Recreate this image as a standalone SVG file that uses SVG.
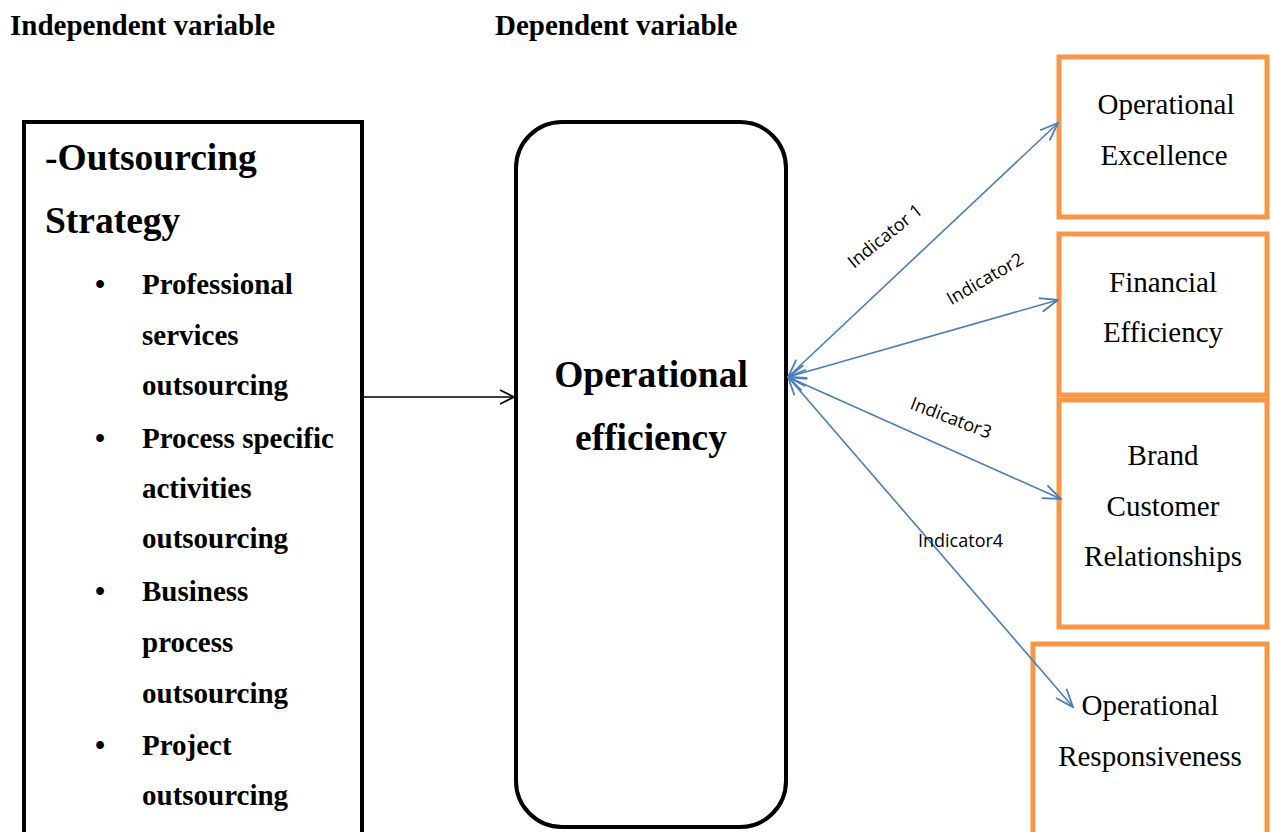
<svg xmlns="http://www.w3.org/2000/svg" width="1271" height="832" viewBox="0 0 1271 832">
<style>
.hdr{font-family:"Liberation Serif","Times New Roman",serif;font-weight:bold;font-size:29px;fill:#000}
.big{font-family:"Liberation Serif","Times New Roman",serif;font-weight:bold;font-size:37.5px;fill:#000}
.item{font-family:"Liberation Serif","Times New Roman",serif;font-weight:bold;font-size:29px;fill:#000}
.rt{font-family:"Liberation Serif","Times New Roman",serif;font-size:29px;fill:#000;text-anchor:middle}
.ind{font-family:"Open Sans","Noto Sans",sans-serif;font-size:18px;fill:#000}
.blk{fill:#fff;stroke:#000;stroke-width:4}
.org{fill:#fff;stroke:#F79646;stroke-width:5}
.blue{stroke:#4A7EBB;stroke-width:1.6;fill:none}
</style>
<defs>
<marker id="ab" viewBox="0 0 20 16" refX="19" refY="8" markerWidth="20" markerHeight="16" markerUnits="userSpaceOnUse" orient="auto-start-reverse">
<path d="M1,1 L19,8 L1,15" fill="none" stroke="#4A7EBB" stroke-width="1.8"/>
</marker>
<marker id="ak" viewBox="0 0 16 16" refX="15" refY="8" markerWidth="16" markerHeight="16" markerUnits="userSpaceOnUse" orient="auto">
<path d="M1,1 L15,8 L1,15" fill="none" stroke="#000" stroke-width="1.6"/>
</marker>
</defs>
<rect width="1271" height="832" fill="#fff"/>
<text class="hdr" x="10" y="35">Independent variable</text>
<text class="hdr" x="495" y="35">Dependent variable</text>

<g id="node-outsourcing">
<rect class="blk" x="24" y="122" width="338" height="760"/>
<text class="big" x="45" y="170">-Outsourcing</text>
<text class="big" x="45" y="233">Strategy</text>
<text class="item" x="100" y="294" text-anchor="middle">•</text>
<text class="item" x="142" y="294">Professional</text>
<text class="item" x="142" y="345">services</text>
<text class="item" x="142" y="395">outsourcing</text>
<text class="item" x="100" y="448" text-anchor="middle">•</text>
<text class="item" x="142" y="448">Process specific</text>
<text class="item" x="142" y="498">activities</text>
<text class="item" x="142" y="548">outsourcing</text>
<text class="item" x="100" y="601" text-anchor="middle">•</text>
<text class="item" x="142" y="601">Business</text>
<text class="item" x="142" y="652">process</text>
<text class="item" x="142" y="703">outsourcing</text>
<text class="item" x="100" y="755" text-anchor="middle">•</text>
<text class="item" x="142" y="755">Project</text>
<text class="item" x="142" y="805">outsourcing</text>
</g>

<g id="node-efficiency">
<rect class="blk" x="516" y="122" width="270" height="705" rx="46" ry="46"/>
<text class="big" x="651" y="387" text-anchor="middle">Operational</text>
<text class="big" x="651" y="450" text-anchor="middle">efficiency</text>
</g>

<g id="node-excellence">
<rect class="org" x="1059" y="57" width="208" height="160"/>
<text class="rt" x="1166" y="114">Operational</text>
<text class="rt" x="1164" y="165">Excellence</text>
</g>
<g id="node-financial">
<rect class="org" x="1059" y="234" width="208" height="161"/>
<text class="rt" x="1163" y="292">Financial</text>
<text class="rt" x="1163" y="342">Efficiency</text>
</g>
<g id="node-brand">
<rect class="org" x="1059" y="400" width="208" height="227"/>
<text class="rt" x="1163" y="465">Brand</text>
<text class="rt" x="1163" y="516">Customer</text>
<text class="rt" x="1163" y="566">Relationships</text>
</g>
<g id="node-responsiveness">
<rect class="org" x="1033" y="644" width="234" height="220"/>
<text class="rt" x="1150" y="715">Operational</text>
<text class="rt" x="1150" y="766">Responsiveness</text>
</g>

<g id="connectors">
<line x1="364" y1="397" x2="514" y2="397" stroke="#000" stroke-width="1.6" marker-end="url(#ak)"/>
<line class="blue" x1="788" y1="377" x2="1058" y2="123" marker-start="url(#ab)" marker-end="url(#ab)"/>
<line class="blue" x1="788" y1="377" x2="1058" y2="300" marker-start="url(#ab)" marker-end="url(#ab)"/>
<line class="blue" x1="788" y1="377" x2="1061" y2="499" marker-start="url(#ab)" marker-end="url(#ab)"/>
<line class="blue" x1="788" y1="377" x2="1073" y2="707" marker-start="url(#ab)" marker-end="url(#ab)"/>
<text class="ind" transform="translate(885,236) rotate(-39)" x="0" y="6" text-anchor="middle">Indicator 1</text>
<text class="ind" transform="translate(985,279) rotate(-30)" x="0" y="6" text-anchor="middle">Indicator2</text>
<text class="ind" transform="translate(951,418) rotate(21)" x="0" y="6" text-anchor="middle">Indicator3</text>
<text class="ind" x="918" y="547">Indicator4</text>
</g>
</svg>
